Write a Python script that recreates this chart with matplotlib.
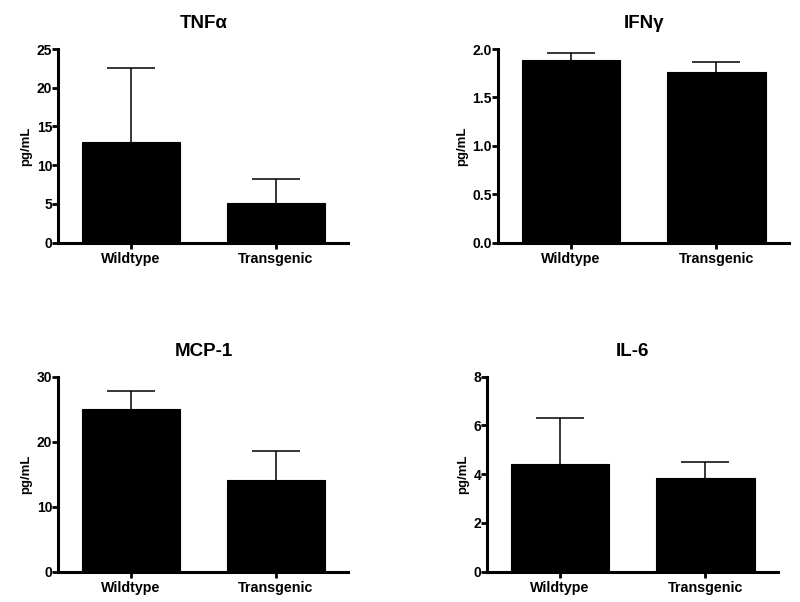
import matplotlib
matplotlib.use("Agg")
import matplotlib.pyplot as plt
import numpy as np

plt.rcParams['font.family'] = ['Liberation Sans', 'DejaVu Sans']
plt.rcParams['font.weight'] = 'bold'

categories = ["Wildtype", "Transgenic"]

titles = ["TNF\u03b1", "IFN\u03b3", "MCP-1", "IL-6"]
means = {
    "TNF\u03b1": [13.0, 5.1],
    "IFN\u03b3": [1.885, 1.76],
    "MCP-1": [25.1, 14.1],
    "IL-6": [4.42, 3.86],
}
upper_err = {
    "TNF\u03b1": [9.6, 3.1],
    "IFN\u03b3": [0.07, 0.11],
    "MCP-1": [2.75, 4.45],
    "IL-6": [1.87, 0.63],
}
yticks = {
    "TNF\u03b1": [0, 5, 10, 15, 20, 25],
    "IFN\u03b3": [0.0, 0.5, 1.0, 1.5, 2.0],
    "MCP-1": [0, 10, 20, 30],
    "IL-6": [0, 2, 4, 6, 8],
}
ytick_labels = {
    "TNF\u03b1": ["0", "5", "10", "15", "20", "25"],
    "IFN\u03b3": ["0.0", "0.5", "1.0", "1.5", "2.0"],
    "MCP-1": ["0", "10", "20", "30"],
    "IL-6": ["0", "2", "4", "6", "8"],
}
ylabel = "pg/mL"

positions = [
    [0.0731, 0.5968, 0.3625, 0.3218],
    [0.6229, 0.5968, 0.3634, 0.3218],
    [0.0731, 0.0503, 0.3625, 0.3240],
    [0.6091, 0.0503, 0.3634, 0.3240],
]

fig = plt.figure(figsize=(8.0, 6.02), dpi=100)

for title, pos in zip(titles, positions):
    ax = fig.add_axes(pos)
    x = np.arange(len(categories))
    vals = means[title]
    errs = upper_err[title]
    ax.bar(x, vals, width=0.68, color='black', edgecolor='black',
           linewidth=0.8, zorder=2)
    eb = ax.errorbar(x, vals, yerr=[np.zeros(len(vals)), errs], fmt='none',
                     ecolor='black', elinewidth=1.1, capsize=17.5,
                     capthick=1.1, zorder=1)
    caps = eb.lines[1]
    if len(caps) >= 2:
        caps[0].set_visible(False)
    ax.set_xlim(-0.5, 1.5)
    ax.set_ylim(0, yticks[title][-1])
    ax.set_yticks(yticks[title])
    ax.set_yticklabels(ytick_labels[title])
    ax.set_xticks(x)
    ax.set_xticklabels(categories, fontsize=10.3, fontweight='bold')
    for lab in ax.get_yticklabels():
        lab.set_fontsize(10)
        lab.set_fontweight('bold')
    ax.set_ylabel(ylabel, fontsize=9.5, fontweight='bold', labelpad=3)
    ax.set_title(title, fontsize=13.5, fontweight='bold', pad=15)
    for s in ['top', 'right']:
        ax.spines[s].set_visible(False)
    for s in ['left', 'bottom']:
        ax.spines[s].set_linewidth(2.2)
    ax.tick_params(axis='y', direction='out', length=4, width=2.0, pad=0.5)
    ax.tick_params(axis='x', direction='out', length=4, width=2.0, pad=3)

fig.savefig("out.png", dpi=100)
